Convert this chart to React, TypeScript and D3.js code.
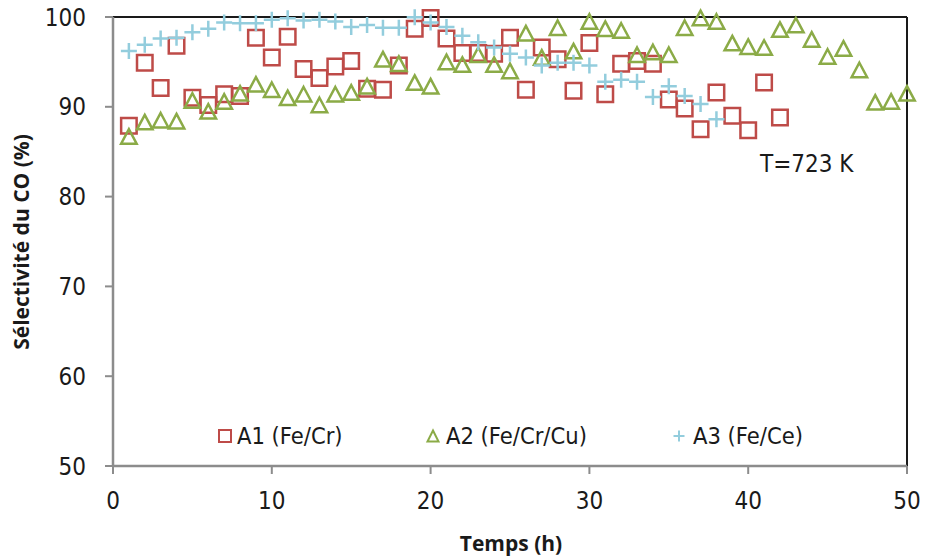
import React from "react";
import * as d3 from "d3";

const hoursA1 = d3.range(1, 43);
const valuesA1 = [
  87.9, 94.9, 92.1, 96.8, 91.0, 90.2, 91.4, 91.2, 97.7, 95.5,
  97.8, 94.2, 93.2, 94.5, 95.1, 92.0, 91.9, 94.6, 98.7, 99.9,
  97.6, 96.0, 96.0, 95.9, 97.7, 91.9, 96.6, 95.3, 91.8, 97.1,
  91.4, 94.8, 95.1, 94.8, 90.8, 89.8, 87.5, 91.6, 89.0, 87.4,
  92.7, 88.8,
];
const hoursA2 = d3.range(1, 51);
const valuesA2 = [
  86.7, 88.3, 88.5, 88.4, 90.7, 89.5, 90.6, 91.5, 92.5, 91.9,
  91.0, 91.4, 90.2, 91.4, 91.6, 92.3, 95.3, 94.8, 92.7, 92.3,
  95.0, 94.7, 95.8, 94.7, 94.0, 98.2, 95.5, 98.8, 96.2, 99.5,
  98.7, 98.5, 95.8, 96.1, 95.8, 98.8, 99.9, 99.5, 97.1, 96.7,
  96.6, 98.6, 99.1, 97.5, 95.6, 96.5, 94.1, 90.5, 90.6, 91.5,
];
const hoursA3 = d3.range(1, 39);
const valuesA3 = [
  96.2, 96.9, 97.6, 97.7, 98.3, 98.7, 99.4, 99.3, 99.3, 99.7,
  99.85, 99.6, 99.7, 99.5, 98.9, 99.1, 98.8, 98.8, 99.96, 99.4,
  98.9, 97.9, 97.2, 96.6, 95.9, 95.5, 94.6, 94.9, 94.9, 94.6,
  92.8, 93.0, 92.8, 91.1, 92.3, 91.2, 90.3, 88.6,
];

const seriesNames = ["A1 (Fe/Cr)", "A2 (Fe/Cr/Cu)", "A3 (Fe/Ce)"];
const xTicks = [0, 10, 20, 30, 40, 50];
const yTicks = [50, 60, 70, 80, 90, 100];
const annotation = "T=723 K";
const xTitle = "Temps (h)";
const yTitle = "Sélectivité du CO (%)";

const RED = "#BE4B48";
const GREEN = "#8BAB47";
const BLUE = "#93CDDD";

const tickFont = "'DejaVu Sans Condensed', 'DejaVu Sans', sans-serif";
const titleFont = "'Open Sans', 'DejaVu Sans', sans-serif";

function squarePath(s: number) {
  const p = d3.path();
  p.rect(-s / 2, -s / 2, s, s);
  return p.toString();
}
function trianglePath(w: number, h: number) {
  const p = d3.path();
  p.moveTo(0, -h / 2);
  p.lineTo(w / 2, h / 2);
  p.lineTo(-w / 2, h / 2);
  p.closePath();
  return p.toString();
}
function plusPath(s: number) {
  const p = d3.path();
  p.moveTo(-s / 2, 0);
  p.lineTo(s / 2, 0);
  p.moveTo(0, -s / 2);
  p.lineTo(0, s / 2);
  return p.toString();
}

export default function App() {
  const W = 925;
  const H = 559;
  const left = 113;
  const right = 907;
  const top = 17;
  const bottom = 466;

  const x = d3.scaleLinear().domain([0, 50]).range([left, right]);
  const y = d3.scaleLinear().domain([50, 100]).range([bottom, top]);

  const sq = squarePath(15.5);
  const tri = trianglePath(15.5, 14.5);
  const plus = plusPath(16);

  const legSq = squarePath(12);
  const legTri = trianglePath(11, 11);
  const legPlus = plusPath(11);

  const legendItems = [
    { x: 225, path: legSq, color: RED, stroke: 2, fill: "none", text: seriesNames[0], tx: 237 },
    { x: 433, path: legTri, color: GREEN, stroke: 2, fill: "none", text: seriesNames[1], tx: 446 },
    { x: 679, path: legPlus, color: BLUE, stroke: 2, fill: "none", text: seriesNames[2], tx: 693 },
  ];
  const legendY = 436;

  return (
    <svg
      width={W}
      height={H}
      style={{ position: "absolute", left: 0, top: 0, background: "#fff" }}
    >
      <rect x={0} y={0} width={W} height={H} fill="#fff" />
      <line x1={left} x2={right} y1={top} y2={top} stroke="#1a1a1a" strokeWidth={2} />
      <line x1={right} x2={right} y1={top} y2={bottom} stroke="#1a1a1a" strokeWidth={2} />

      <line x1={left} x2={left} y1={top} y2={bottom} stroke="#8c8c8c" strokeWidth={2.5} />
      {yTicks.map((t) => (
        <g key={"y" + t}>
          <line x1={left - 8} x2={left} y1={y(t)} y2={y(t)} stroke="#8c8c8c" strokeWidth={2} />
          <text
            x={86}
            y={y(t)}
            dy="0.36em"
            textAnchor="end"
            fontFamily={tickFont}
            fontSize={24}
            fill="#1a1a1a"
          >
            {t}
          </text>
        </g>
      ))}

      <line x1={left} x2={right} y1={bottom} y2={bottom} stroke="#8c8c8c" strokeWidth={2.5} />
      {xTicks.map((t) => (
        <g key={"x" + t}>
          <line x1={x(t)} x2={x(t)} y1={bottom} y2={bottom + 8} stroke="#8c8c8c" strokeWidth={2} />
          <text
            x={x(t)}
            y={509}
            textAnchor="middle"
            fontFamily={tickFont}
            fontSize={24}
            fill="#1a1a1a"
          >
            {t}
          </text>
        </g>
      ))}

      <text
        x={511}
        y={551}
        textAnchor="middle"
        fontFamily={titleFont}
        fontWeight="bold"
        fontSize={21}
        fill="#1a1a1a"
      >
        {xTitle}
      </text>
      <text
        transform={`translate(29, 242) rotate(-90)`}
        textAnchor="middle"
        fontFamily={titleFont}
        fontWeight="bold"
        fontSize={21}
        fill="#1a1a1a"
      >
        {yTitle}
      </text>

      <g>
        {hoursA1.map((h, i) => (
          <path
            key={"a1" + i}
            d={sq}
            transform={`translate(${x(h)},${y(valuesA1[i])})`}
            fill="none"
            stroke={RED}
            strokeWidth={2.5}
          />
        ))}
      </g>
      <g>
        {hoursA2.map((h, i) => (
          <path
            key={"a2" + i}
            d={tri}
            transform={`translate(${x(h)},${y(valuesA2[i])})`}
            fill="none"
            stroke={GREEN}
            strokeWidth={2.5}
            strokeLinejoin="miter"
          />
        ))}
      </g>
      <g>
        {hoursA3.map((h, i) => (
          <path
            key={"a3" + i}
            d={plus}
            transform={`translate(${x(h)},${y(valuesA3[i])})`}
            fill="none"
            stroke={BLUE}
            strokeWidth={2.5}
          />
        ))}
      </g>

      <text x={760} y={172} fontFamily={tickFont} fontSize={24} fill="#1a1a1a">
        {annotation}
      </text>

      {legendItems.map((it) => (
        <g key={it.text}>
          <path
            d={it.path}
            transform={`translate(${it.x},${legendY})`}
            fill={it.fill}
            stroke={it.color}
            strokeWidth={it.stroke}
          />
          <text
            x={it.tx}
            y={legendY}
            dy="0.36em"
            fontFamily={tickFont}
            fontSize={23.5}
            fill="#1a1a1a"
          >
            {it.text}
          </text>
        </g>
      ))}
    </svg>
  );
}
